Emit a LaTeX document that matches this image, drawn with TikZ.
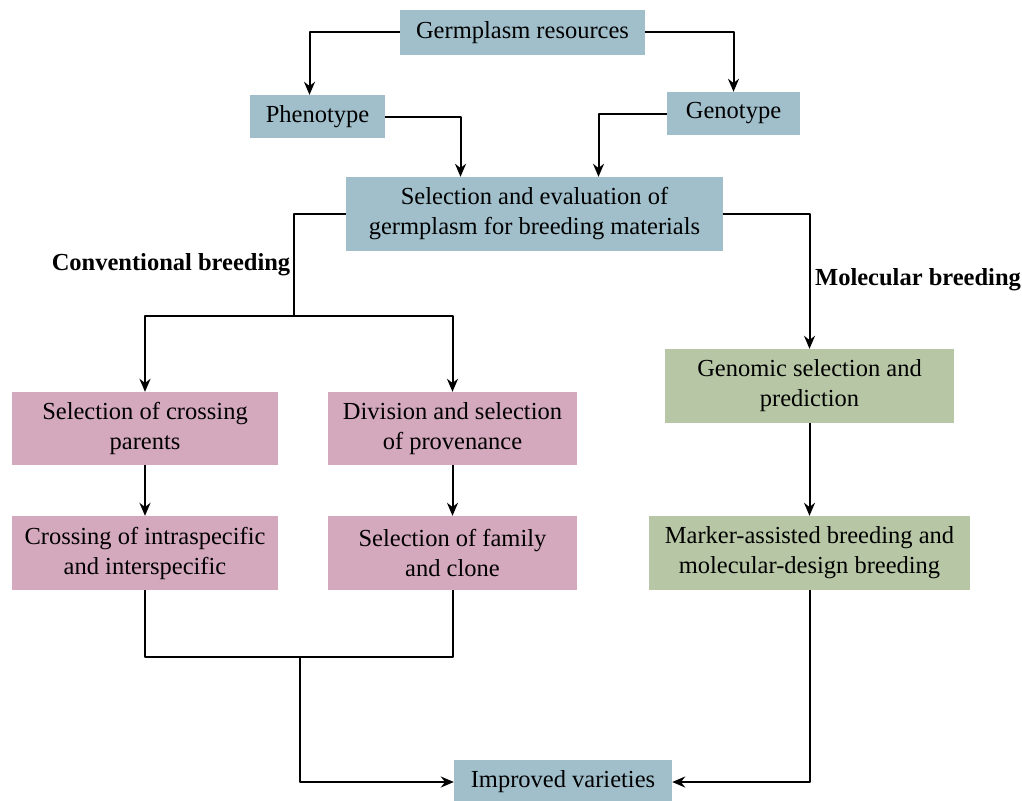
\documentclass[tikz,border=0pt]{standalone}
\usepackage{fontspec}
\setmainfont{Liberation Serif}
\usetikzlibrary{arrows.meta}
\definecolor{boxblue}{HTML}{A0BFCB}
\definecolor{boxpink}{HTML}{D4A8BD}
\definecolor{boxgreen}{HTML}{B7C7A5}
\begin{document}
\begin{tikzpicture}[x=1pt,y=-1pt,line join=round,>={Stealth[length=13pt,width=11pt]},
	box/.style={fill=#1,align=center,inner sep=0pt,font=\fontsize{24.5}{30}\selectfont},
	link/.style={line width=2pt},
	tag/.style={font=\fontsize{24.5}{28}\selectfont\bfseries}]
	\useasboundingbox (0,0) rectangle (1022,800);
	% top row
	\node[box=boxblue,minimum width=245,minimum height=45] (germ) at (522.5,32.5) {Germplasm resources};
	\node[box=boxblue,minimum width=135,minimum height=43] (pheno) at (317.5,116.5) {Phenotype};
	\node[box=boxblue,minimum width=133,minimum height=43] (geno) at (733.5,113.5) {Genotype};
	\node[box=boxblue,minimum width=377,minimum height=74] (sel) at (534.5,214) {Selection and evaluation of\\germplasm for breeding materials};
	% conventional branch
	\node[box=boxpink,minimum width=266,minimum height=73] (cross) at (145,428.5) {Selection of crossing\\parents};
	\node[box=boxpink,minimum width=249,minimum height=73] (prov) at (452.5,428.5) {Division and selection\\of provenance};
	\node[box=boxpink,minimum width=266,minimum height=74] (intra) at (145,553) {Crossing of intraspecific\\and interspecific};
	\node[box=boxpink,minimum width=249,minimum height=74] (family) at (452.5,553) {Selection of family\\and clone};
	% molecular branch
	\node[box=boxgreen,minimum width=289,minimum height=74] (gs) at (809.5,386) {Genomic selection and\\prediction};
	\node[box=boxgreen,minimum width=321,minimum height=74] (mas) at (809.5,553) {Marker-assisted breeding and\\molecular-design breeding};
	\node[box=boxblue,minimum width=218,minimum height=44] (improved) at (563,782) {Improved varieties};
	\node[tag] (conv) at (171,265) {Conventional breeding};
	\node[tag] (mol) at (918,280) {Molecular breeding};
	% connectors
	\draw[link,->] (germ.west) -| ([xshift=-8]pheno.north);
	\draw[link,->] (germ.east) -| (geno.north);
	\draw[link,->] (pheno.east) -| ([xshift=-74]sel.north);
	\draw[link,->] (geno.west) -| ([xshift=64]sel.north);
	\coordinate (split) at (294,316);
	\draw[link] (sel.west) -| (split);
	\draw[link,->] (split) -| (cross.north);
	\draw[link,->] (split) -| (prov.north);
	\draw[link,->] (sel.east) -| (gs.north);
	\draw[link,->] (cross) -- (intra);
	\draw[link,->] (prov) -- (family);
	\draw[link,->] (gs) -- (mas);
	\coordinate (merge) at (300,657);
	\draw[link] (intra.south) |- (merge);
	\draw[link] (family.south) |- (merge);
	\draw[link,->] (merge) |- (improved.west);
	\draw[link,->] (mas.south) |- (improved.east);
\end{tikzpicture}
\end{document}
